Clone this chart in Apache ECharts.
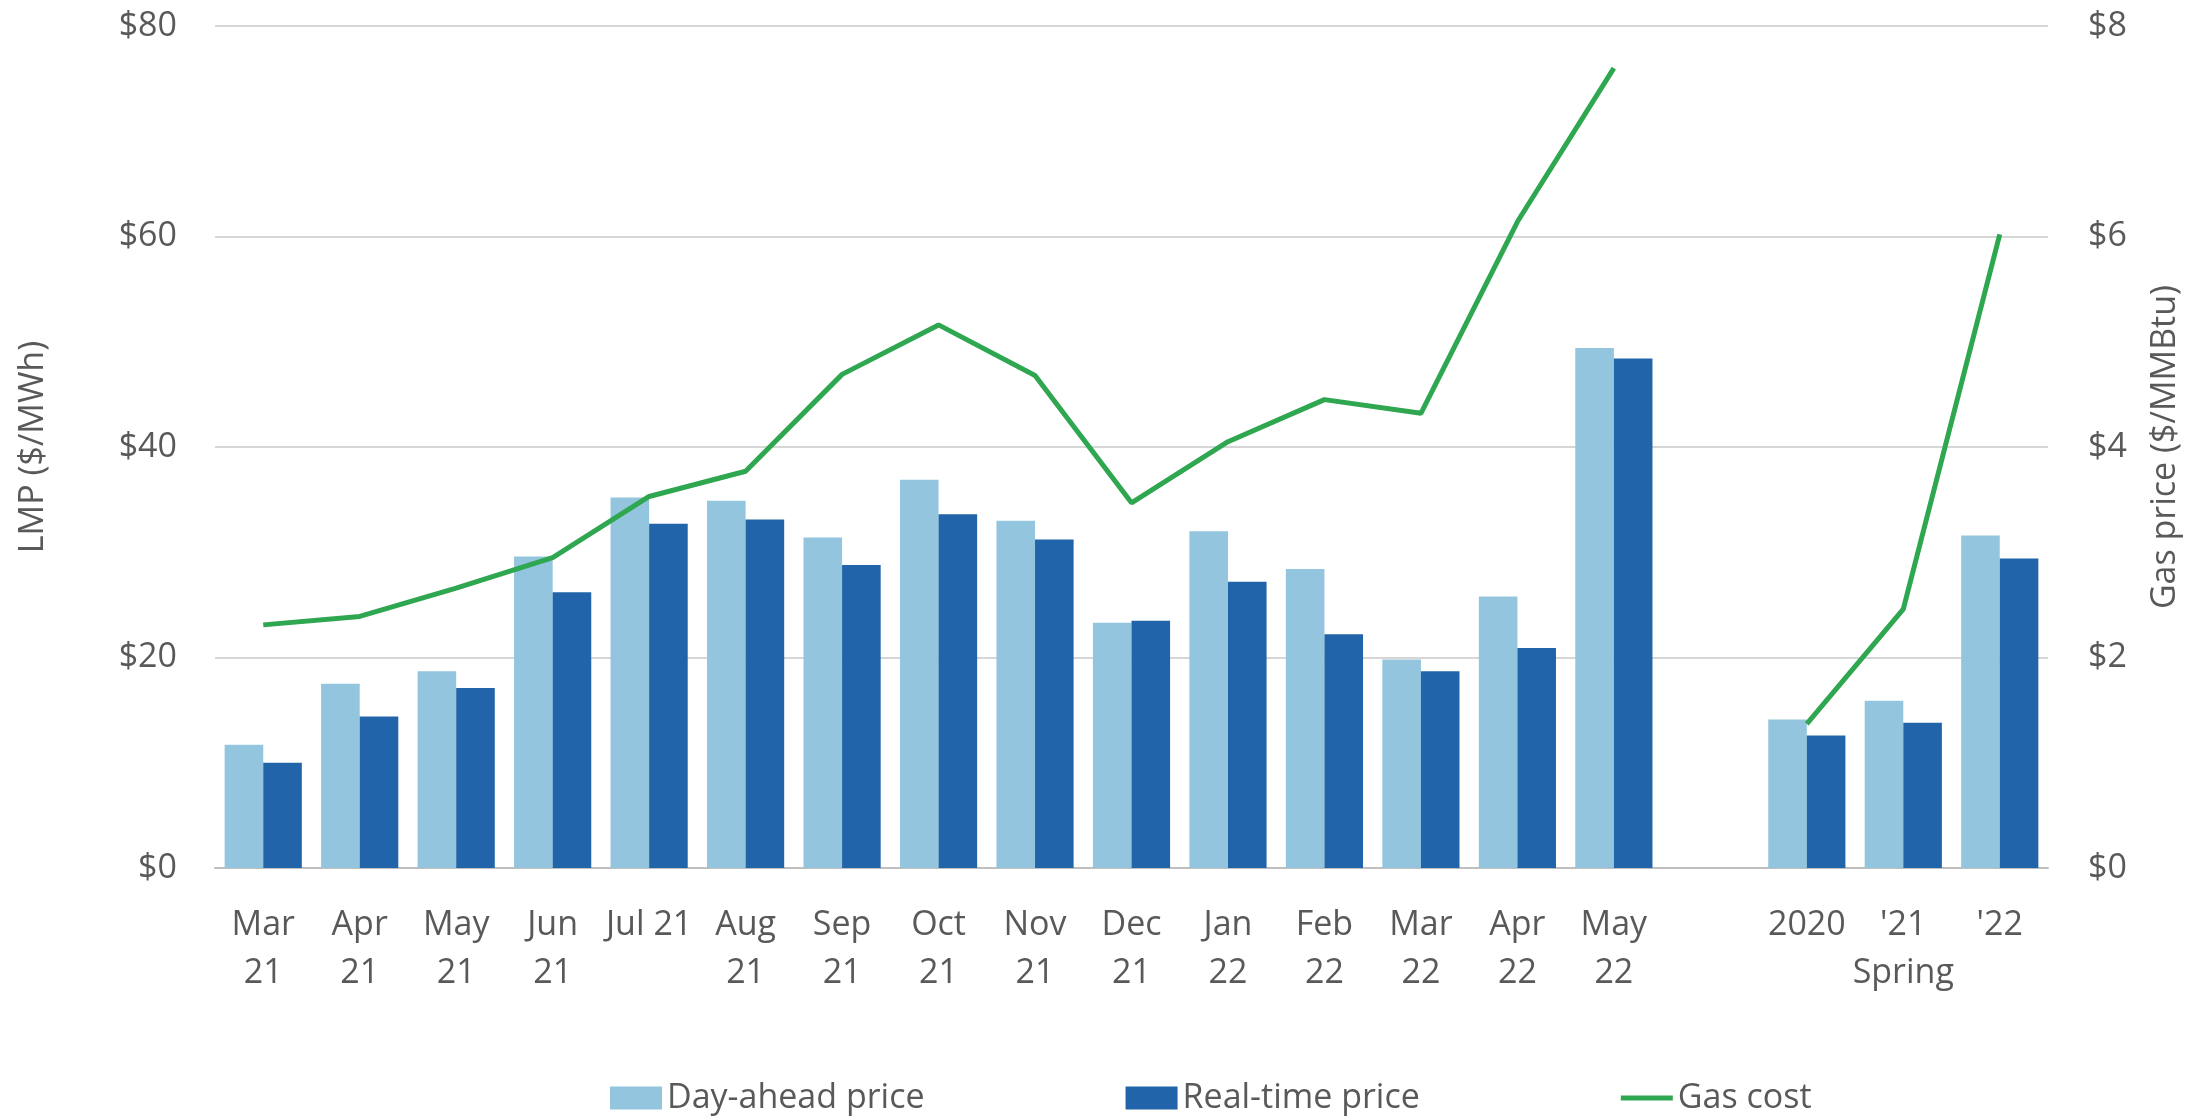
<!DOCTYPE html>
<html>
<head>
<meta charset="utf-8">
<script src="https://cdn.jsdelivr.net/npm/echarts@6/dist/echarts.min.js"></script>
<style>
  html, body { margin: 0; padding: 0; background: #fff; }
  #main { width: 2197px; height: 1119px; }
</style>
</head>
<body>
<div id="main"></div>
<script>
// months, then a blank spacer, then the spring averages
var categories = ['Mar\n21', 'Apr\n21', 'May\n21', 'Jun\n21', 'Jul 21', 'Aug\n21', 'Sep\n21', 'Oct\n21',
  'Nov\n21', 'Dec\n21', 'Jan\n22', 'Feb\n22', 'Mar\n22', 'Apr\n22', 'May\n22', '', '2020', "'21\nSpring", "'22"];
var dayAhead = [11.7, 17.5, 18.7, 29.6, 35.2, 34.9, 31.4, 36.9, 33.0, 23.3, 32.0, 28.4, 19.8, 25.8, 49.4, null, 14.1, 15.9, 31.6];
var realTime = [10.0, 14.4, 17.1, 26.2, 32.7, 33.1, 28.8, 33.6, 31.2, 23.5, 27.2, 22.2, 18.7, 20.9, 48.4, null, 12.6, 13.8, 29.4];
var gasCost = [2.31, 2.39, 2.66, 2.95, 3.53, 3.77, 4.69, 5.16, 4.68, 3.47, 4.05, 4.45, 4.32, 6.14, 7.60, null, 1.37, 2.46, 6.02];

var txt = '#595959';
var font = 'Open Sans';

var myChart = echarts.init(document.getElementById('main'));
var option = {
  animation: false,
  textStyle: { fontFamily: font },
  grid: { left: 215, right: 149, top: 26, bottom: 251 },
  legend: {
    left: 610,
    top: 1078,
    padding: 0,
    itemWidth: 52,
    itemHeight: 23,
    itemGap: 201,
    textStyle: { color: txt, fontSize: 34, fontFamily: font, lineHeight: 40 },
    data: [
      { name: 'Day-ahead price', icon: 'rect' },
      { name: 'Real-time price', icon: 'rect' },
      // plain thick line, no marker
      { name: 'Gas cost', icon: 'path://M0,0H52V5H0Z' }
    ]
  },
  xAxis: {
    type: 'category',
    data: categories,
    axisLine: { lineStyle: { color: '#BFBFBF', width: 2 } },
    axisTick: { show: false },
    axisLabel: { color: txt, fontSize: 34, lineHeight: 48, margin: 33, interval: 0 }
  },
  yAxis: [
    {
      type: 'value', min: 0, max: 80, interval: 20,
      name: 'LMP ($/MWh)', nameLocation: 'middle', nameGap: 165,
      nameTextStyle: { color: txt, fontSize: 34 },
      axisLabel: { color: txt, fontSize: 34, margin: 38, formatter: function (v) { return '$' + v; } },
      splitLine: { lineStyle: { color: '#C8C8C8', width: 1.5 } },
      axisLine: { show: false }, axisTick: { show: false }
    },
    {
      type: 'value', min: 0, max: 8, interval: 2,
      name: 'Gas price ($/MMBtu)', nameLocation: 'middle', nameGap: 100,
      nameTextStyle: { color: txt, fontSize: 34 },
      axisLabel: { color: txt, fontSize: 34, margin: 40, formatter: function (v) { return '$' + v; } },
      splitLine: { show: false },
      axisLine: { show: false }, axisTick: { show: false }
    }
  ],
  series: [
    {
      name: 'Day-ahead price', type: 'bar', data: dayAhead,
      barGap: '0%', barCategoryGap: '20%',
      itemStyle: { color: '#93C5DE' }
    },
    {
      name: 'Real-time price', type: 'bar', data: realTime,
      barGap: '0%', barCategoryGap: '20%',
      itemStyle: { color: '#2264A9' }
    },
    {
      name: 'Gas cost', type: 'line', yAxisIndex: 1, data: gasCost,
      symbol: 'none', z: 5,
      lineStyle: { color: '#2FA650', width: 5 },
      itemStyle: { color: '#2FA650' }
    }
  ]
};
myChart.setOption(option);
</script>
</body>
</html>
